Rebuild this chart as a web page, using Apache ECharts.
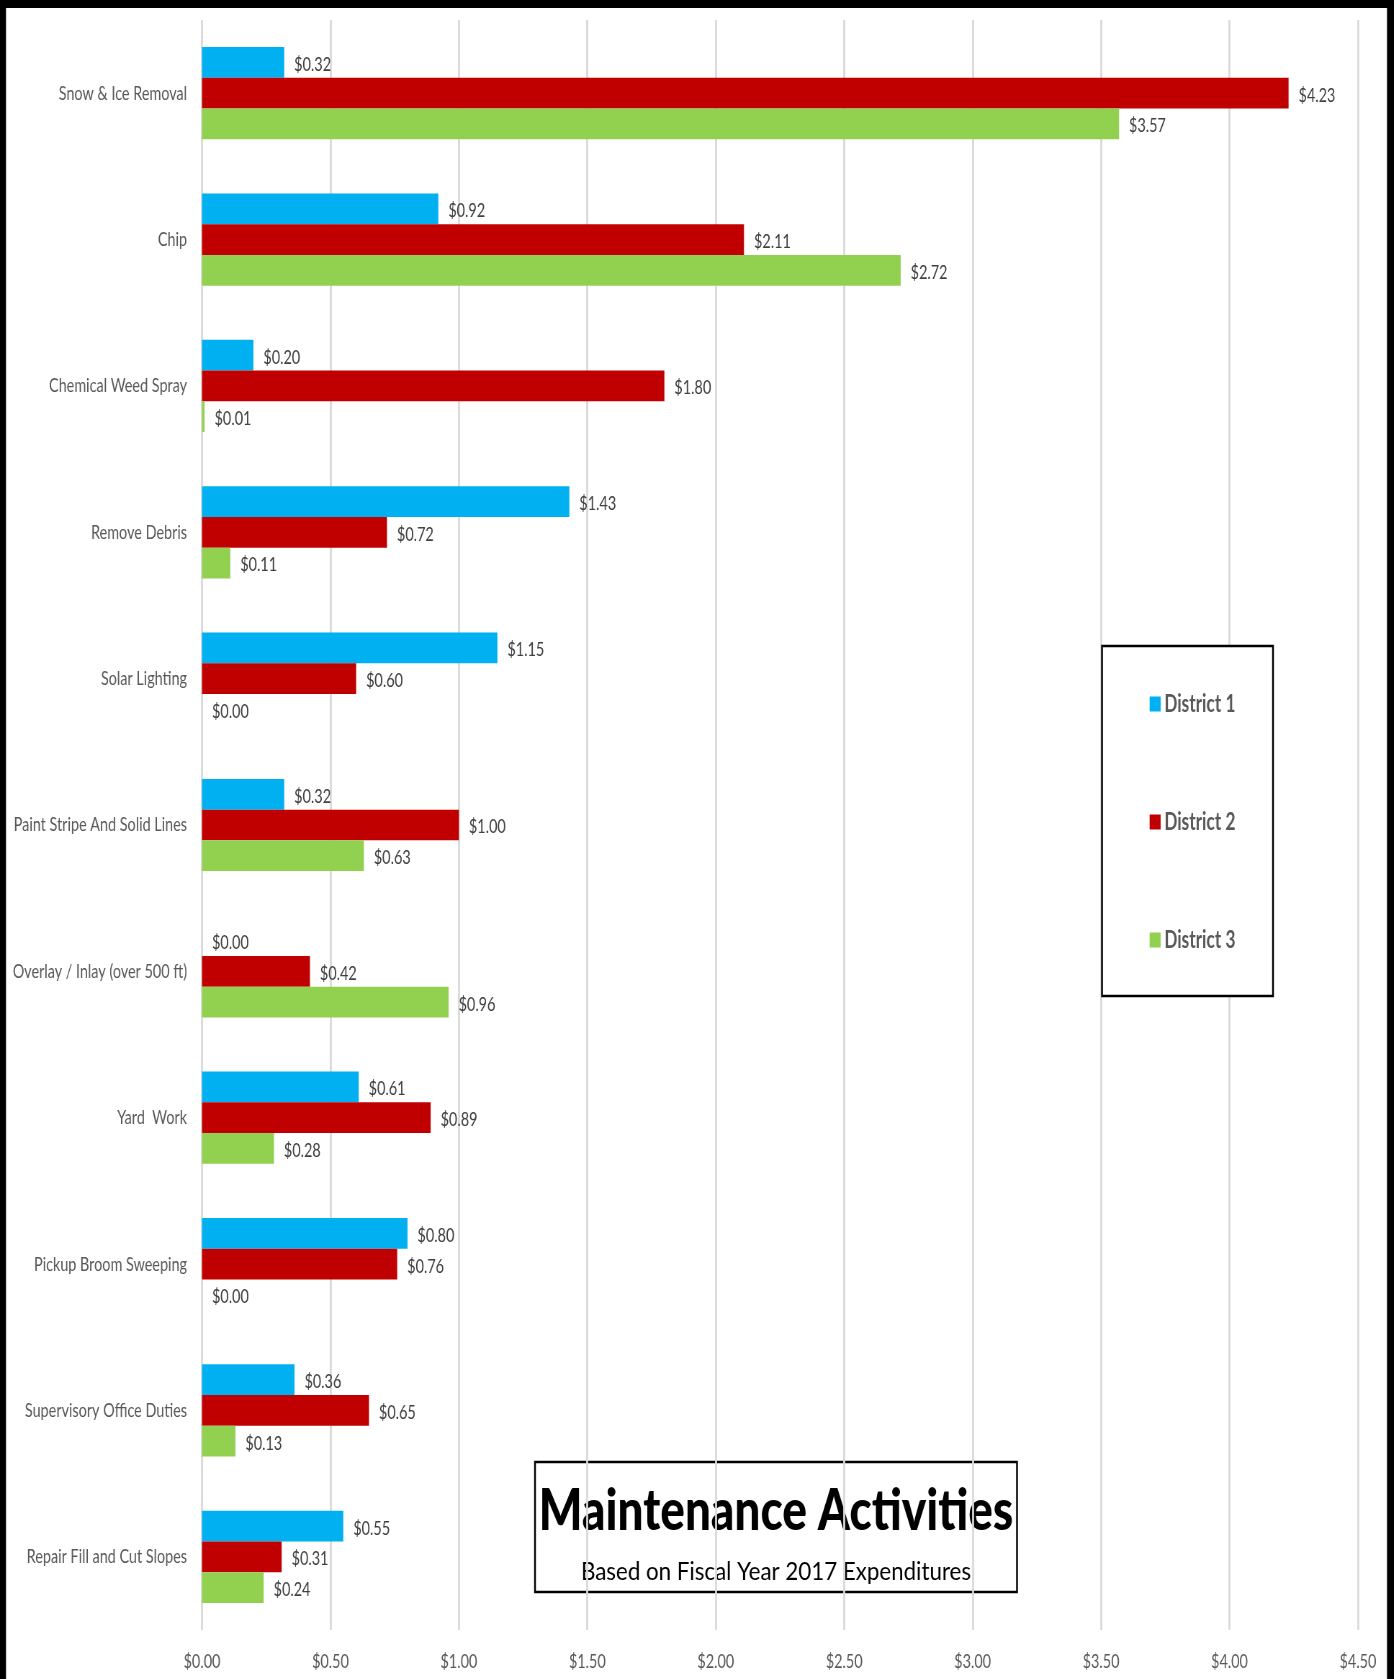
<!DOCTYPE html>
<html>
<head>
<meta charset="utf-8">
<title>Maintenance Activities</title>
<script src="https://cdn.jsdelivr.net/npm/echarts@6/dist/echarts.min.js"></script>
<style>
  html, body { margin: 0; padding: 0; background: #fff; overflow: hidden; }
  #wrap { width: 1394px; height: 1679px; overflow: hidden; position: relative; }
  #chart { height: 1679px; transform-origin: 0 0; position: absolute; left: 0; top: 0; }
</style>
</head>
<body>
<div id="wrap"><div id="chart"></div></div>
<script>
// categories, top to bottom
const categories = [
  'Snow & Ice Removal',
  'Chip',
  'Chemical Weed Spray',
  'Remove Debris',
  'Solar Lighting',
  'Paint Stripe And Solid Lines',
  'Overlay / Inlay (over 500 ft)',
  'Yard  Work',
  'Pickup Broom Sweeping',
  'Supervisory Office Duties',
  'Repair Fill and Cut Slopes'
];

const district1 = [0.32, 0.92, 0.20, 1.43, 1.15, 0.32, 0.00, 0.61, 0.80, 0.36, 0.55];
const district2 = [4.23, 2.11, 1.80, 0.72, 0.60, 1.00, 0.42, 0.89, 0.76, 0.65, 0.31];
const district3 = [3.57, 2.72, 0.01, 0.11, 0.00, 0.63, 0.96, 0.28, 0.00, 0.13, 0.24];

const seriesNames = ['District 1', 'District 2', 'District 3'];
const colors = ['#00b0f0', '#c00000', '#92d050'];

const font = 'Lato, "Open Sans", sans-serif';

// 原图文字是横向压缩的，整个图表横向缩放
const SX = 0.72;
const px = x => x / SX;  // 屏幕横坐标 -> 图表坐标

const el = document.getElementById('chart');
el.style.width = Math.round(px(1394)) + 'px';
el.style.transform = 'scaleX(' + SX + ')';

const chart = echarts.init(el);

// 数据标签
const money = v => '$' + Number(v).toFixed(2);

const makeSeries = (name, data, color) => ({
  name: name,
  type: 'bar',
  data: data,
  barGap: '0%',
  barCategoryGap: '37%',
  itemStyle: { color: color },
  label: {
    show: true,
    position: 'right',
    distance: px(10),
    offset: [0, 2],
    formatter: p => money(p.value),
    color: '#404040',
    fontSize: 20,
    fontFamily: font
  }
});

const option = {
  backgroundColor: '#fff',
  animation: false,
  grid: {
    left: px(202),
    right: px(36),
    top: 20,
    bottom: 49,
    outerBoundsMode: 'none'
  },
  legend: {
    data: seriesNames,
    orient: 'vertical',
    left: px(1146),
    top: 687,
    itemGap: 94,
    itemWidth: px(11),
    itemHeight: 15,
    icon: 'rect',
    textStyle: {
      color: '#595959',
      fontSize: 24,
      fontWeight: 'bold',
      fontFamily: font
    }
  },
  xAxis: {
    type: 'value',
    min: 0,
    max: 4.5,
    interval: 0.5,
    axisLine: { show: false },
    axisTick: { show: false },
    splitLine: { lineStyle: { color: '#d9d9d9', width: px(2) } },
    axisLabel: {
      formatter: v => money(v),
      color: '#595959',
      fontSize: 20,
      fontFamily: font,
      margin: 22
    }
  },
  yAxis: {
    type: 'category',
    data: categories,
    inverse: true,
    axisLine: { show: false },
    axisTick: { show: false },
    axisLabel: {
      color: '#595959',
      fontSize: 20,
      fontFamily: font,
      margin: px(15),
      padding: [3, 0, 0, 0]
    }
  },
  series: [
    makeSeries(seriesNames[0], district1, colors[0]),
    makeSeries(seriesNames[1], district2, colors[1]),
    makeSeries(seriesNames[2], district3, colors[2])
  ],
  graphic: [
    // 外框
    { type: 'rect', shape: { x: 0, y: 0, width: px(6), height: 1679 }, style: { fill: '#000' }, z: 100 },
    { type: 'rect', shape: { x: 0, y: 0, width: px(1394), height: 8 }, style: { fill: '#000' }, z: 100 },
    { type: 'rect', shape: { x: px(1387), y: 0, width: px(7), height: 1679 }, style: { fill: '#000' }, z: 100 },
    // 图例框
    {
      type: 'rect',
      shape: { x: px(1102), y: 646, width: px(171), height: 350 },
      style: { fill: '#fff', stroke: '#000', lineWidth: 2.5 },
      z: 1
    },
    // 标题框
    {
      type: 'group',
      z: 50,
      children: [
        {
          type: 'rect',
          shape: { x: px(535), y: 1462, width: px(482), height: 130 },
          style: { fill: '#fff', stroke: '#000', lineWidth: 2.5 }
        },
        {
          type: 'text',
          x: px(776),
          y: 1511,
          scaleX: 1.1,
          style: {
            text: 'Maintenance Activities',
            fill: '#000',
            font: '900 58px ' + font,
            align: 'center',
            verticalAlign: 'middle'
          }
        },
        {
          type: 'text',
          x: px(776),
          y: 1572,
          scaleX: 1.24,
          style: {
            text: 'Based on Fiscal Year 2017 Expenditures',
            fill: '#000',
            font: '25px ' + font,
            align: 'center',
            verticalAlign: 'middle'
          }
        }
      ]
    }
  ]
};

chart.setOption(option);
</script>
</body>
</html>
